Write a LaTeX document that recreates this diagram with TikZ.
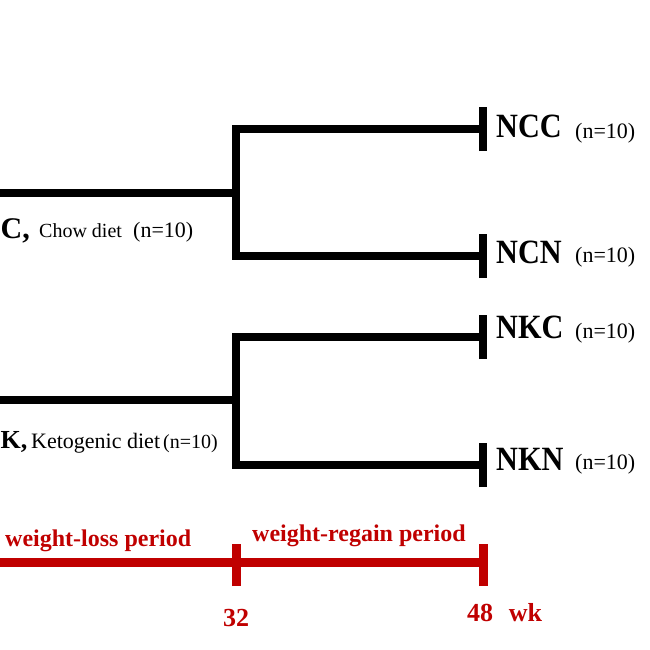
\documentclass[tikz,border=0pt]{standalone}
\usepackage{fontspec}
\setmainfont{Liberation Serif}
\definecolor{darkred}{RGB}{192,0,0}
\begin{document}
\begin{tikzpicture}[x=1pt,y=-1pt,
  bar/.style={line width=8.5pt,black,line join=miter},
  rbar/.style={line width=9pt,darkred},
  grp/.style={anchor=base west,inner sep=0pt,font=\fontsize{34}{36}\selectfont\bfseries,xscale=0.89,transform shape},
  nn/.style={anchor=base west,inner sep=0pt,font=\fontsize{22}{24}\selectfont},
  lab/.style={anchor=base west,inner sep=0pt},
  rlab/.style={anchor=base west,inner sep=0pt,text=darkred,font=\bfseries},
]
\useasboundingbox (0,0) rectangle (650,650);
% coordinates
\coordinate (cL) at (-5,193);
\coordinate (cJ) at (236,193);
\coordinate (cT) at (236,129);
\coordinate (cB) at (236,256);
\coordinate (ncc) at (483,129);
\coordinate (ncn) at (483,256);
\coordinate (kL) at (-5,400);
\coordinate (kJ) at (236,400);
\coordinate (kT) at (236,337);
\coordinate (kB) at (236,465);
\coordinate (nkc) at (483,337);
\coordinate (nkn) at (483,465);
% tree
\draw[bar] (cL) -- (cJ);
\draw[bar] (ncc) -- (cT) -- (cB) -- (ncn);
\draw[bar] (kL) -- (kJ);
\draw[bar] (nkc) -- (kT) -- (kB) -- (nkn);
% end ticks
\draw[bar] ([yshift=-22pt]ncc) -- ([yshift=22pt]ncc);
\draw[bar] ([yshift=-22pt]ncn) -- ([yshift=22pt]ncn);
\draw[bar] ([yshift=-22pt]nkc) -- ([yshift=22pt]nkc);
\draw[bar] ([yshift=-22pt]nkn) -- ([yshift=22pt]nkn);
% group labels
\node[grp] (tNCC) at (496,138) {NCC};
\node[nn] (nNCC) at (575,139) {(n=10)};
\node[grp] (tNCN) at (496,263) {NCN};
\node[nn] (nNCN) at (575,262) {(n=10)};
\node[grp] (tNKC) at (496,338) {NKC};
\node[nn] (nNKC) at (575,338) {(n=10)};
\node[grp] (tNKN) at (496,470) {NKN};
\node[nn] (nNKN) at (575,469) {(n=10)};
% diet labels
\node[lab,font=\fontsize{30}{32}\selectfont\bfseries] (tC) at (0.5,238) {C,};
\node[lab,font=\fontsize{20}{22}\selectfont] (tChow) at (39,237) {Chow diet};
\node[lab,font=\fontsize{22}{24}\selectfont] (nChow) at (133,237) {(n=10)};
\node[lab,font=\fontsize{26}{28}\selectfont\bfseries] (tK) at (0.5,448) {K,};
\node[lab,font=\fontsize{22}{24}\selectfont] (tKeto) at (31,448) {Ketogenic diet};
\node[lab,font=\fontsize{20}{22}\selectfont] (nKeto) at (163,448) {(n=10)};
% timeline
\coordinate (rL) at (-5,562);
\coordinate (r32) at (236,562);
\coordinate (r48) at (483,562);
\draw[rbar] (rL) -- (r48);
\draw[rbar] ([yshift=-24pt]r32) -- ([yshift=18pt]r32);
\draw[rbar] ([yshift=-24pt]r48) -- ([yshift=18pt]r48);
\node[rlab,font=\fontsize{24}{26}\selectfont\bfseries] (wl) at (5,546) {weight-loss period};
\node[rlab,font=\fontsize{24}{26}\selectfont\bfseries] (wr) at (252,541) {weight-regain period};
\node[anchor=base,inner sep=0pt,text=darkred,font=\fontsize{26}{28}\selectfont\bfseries] (t32) at (236,626) {32};
\node[rlab,font=\fontsize{26}{28}\selectfont\bfseries] (t48) at (467,621) {48\hspace{0.6em}wk};
\end{tikzpicture}
\end{document}
